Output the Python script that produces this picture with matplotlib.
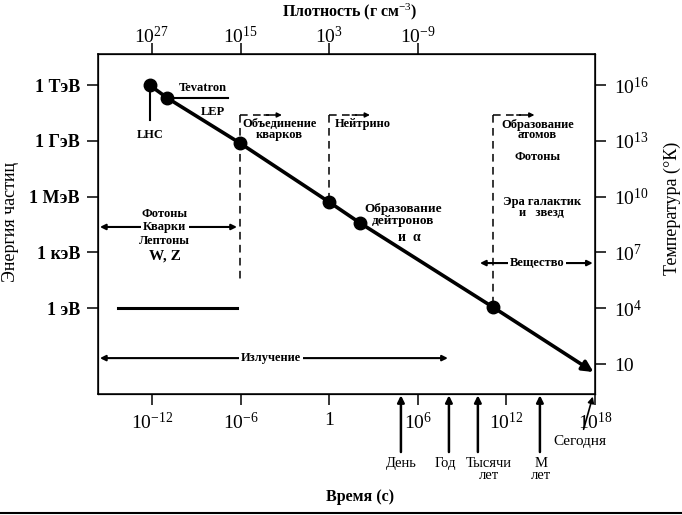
import numpy as np
import matplotlib.pyplot as plt
from matplotlib.lines import Line2D
from matplotlib.ticker import NullLocator

plt.rcParams['font.family'] = ['Liberation Serif', 'DejaVu Serif']
plt.rcParams['mathtext.fontset'] = 'custom'
plt.rcParams['mathtext.rm'] = 'Liberation Serif'
plt.rcParams['mathtext.it'] = 'Liberation Serif:italic'
plt.rcParams['mathtext.bf'] = 'Liberation Serif:bold'

# cooling line: log10 time (s) and log10 temperature (K)
line_t = [-12.16, -10.95, -6.04, 0.0, 2.1, 11.09, 17.9]
line_T = [16.0, 15.3, 12.88, 9.71, 8.58, 4.06, 0.57]
n_dots = 6

# bottom axis
time_ticks = [-12, -6, 0, 6, 12, 18]
time_labels = ['$10^{-12}$', '$10^{-6}$', '1', '$10^{6}$', '$10^{12}$', '$10^{18}$']
# top axis (density)
dens_ticks = [-12, -6, 0, 6]
dens_labels = ['$10^{27}$', '$10^{15}$', '$10^{3}$', '$10^{-9}$']
# left axis (energy) / right axis (temperature)
energy_ticks = [16, 13, 10, 7, 4]
energy_labels = ['1 ТэВ', '1 ГэВ', '1 МэВ', '1 кэВ', '1 эВ']
temp_ticks = [16, 13, 10, 7, 4, 1]
temp_labels = ['$10^{16}$', '$10^{13}$', '$10^{10}$', '$10^{7}$', '$10^{4}$', '10']

# time markers below the axis
event_t = [4.86, 8.11, 10.07, 14.27]
event_label_t = [4.86, 7.9, 10.82, 14.34]
event_labels = ['День', 'Год', 'Тысячи\nлет', 'М\nлет']

# epoch boundaries (dashed lines), log10 time
epoch_t = [-6.04, 0.0, 11.09]
epoch_bottom = [5.52, 9.71, 4.06]
epoch_arrow_end = [-3.2, 2.76, 13.9]


def P(x, y):
    return 10.0 ** x, 10.0 ** y


fig = plt.figure(figsize=(6.82, 5.15), dpi=100)
ax = fig.add_axes([98 / 682, 1 - 394 / 515, 497 / 682, 340 / 515])
ax.set_xscale('log')
ax.set_yscale('log')
xlim = P(-15.65, 18.0)
ylim = (10 ** -0.61, 10 ** 17.67)
ax.set_xlim(xlim)
ax.set_ylim(ylim)
for s in ax.spines.values():
    s.set_linewidth(1.1)

ax.set_xticks(10.0 ** np.array(time_ticks), time_labels)
ax.set_yticks(10.0 ** np.array(energy_ticks), energy_labels)
ax.xaxis.set_minor_locator(NullLocator())
ax.yaxis.set_minor_locator(NullLocator())
ax.tick_params(axis='x', direction='out', length=8, width=1.1, pad=5, labelsize=14)
ax.tick_params(axis='y', direction='out', length=8, width=1.1, pad=5, labelsize=13)
for lbl in ax.get_yticklabels():
    lbl.set_fontweight('bold')

axr = ax.twinx()
axr.set_yscale('log')
axr.set_ylim(ylim)
axr.set_yticks(10.0 ** np.array(temp_ticks), temp_labels)
axr.yaxis.set_minor_locator(NullLocator())
axr.tick_params(axis='y', direction='out', length=8, width=1.1, pad=6, labelsize=14)

axt = ax.twiny()
axt.set_xscale('log')
axt.set_xlim(xlim)
axt.set_xticks(10.0 ** np.array(dens_ticks), dens_labels)
axt.xaxis.set_minor_locator(NullLocator())
axt.tick_params(axis='x', direction='out', length=8, width=1.1, pad=-3, labelsize=14)

# main line with dots and final arrow
lt = 10.0 ** np.array(line_t)
lT = 10.0 ** np.array(line_T)
ax.plot(lt[:-1], lT[:-1], color='k', lw=2.6, zorder=5)
ax.annotate('', xy=(lt[-1], lT[-1]), xytext=(lt[-2], lT[-2]),
            arrowprops=dict(arrowstyle='-|>', lw=2.6, color='k', mutation_scale=16,
                            shrinkA=0, shrinkB=0), zorder=5)
ax.plot(lt[:n_dots], lT[:n_dots], 'o', color='k', ms=9, zorder=6)

bold = dict(fontweight='bold', ha='center', va='center', color='k')

# LHC / Tevatron
ax.plot(*zip(P(line_t[0], line_T[0]), P(line_t[0], 14.12)), color='k', lw=1.5)
ax.text(*P(-12.13, 13.31), 'LHC', fontsize=9, **bold)
ax.plot(*zip(P(line_t[1], line_T[1]), P(-6.86, line_T[1])), color='k', lw=1.5)
ax.text(*P(-8.54, 15.84), 'Tevatron', fontsize=9, **bold)
ax.text(*P(-7.87, 14.55), 'LEP', fontsize=9, **bold)

# dashed epoch lines with small arrows on top
top = 14.39
for et, eb, ea in zip(epoch_t, epoch_bottom, epoch_arrow_end):
    ax.plot(*zip(P(et, top), P(et, eb)), color='k', lw=1.1, ls=(0, (5, 3.5)))
    ax.plot(*zip(P(et, top), P(ea - 0.9, top)), color='k', lw=1.1, ls=(0, (5, 3.5)))
    ax.annotate('', xy=P(ea, top), xytext=P(ea - 1.2, top),
                arrowprops=dict(arrowstyle='-|>', lw=1.1, color='k', mutation_scale=7,
                                shrinkA=0, shrinkB=0))

ax.text(*P(-3.35, 13.6), 'Объединение\nкварков', fontsize=9, linespacing=0.9, **bold)
ax.text(*P(2.3, 13.9), 'Нейтрино', fontsize=9, **bold)
ax.text(*P(14.1, 13.6), 'Образование\nатомов', fontsize=9, linespacing=0.8, **bold)
ax.text(*P(14.1, 12.13), 'Фотоны', fontsize=9, **bold)
ax.text(*P(14.4, 9.42), 'Эра галактик\nи   звезд', fontsize=9, linespacing=0.8, **bold)
ax.text(*P(5.0, 9.04), 'Образование\nдейтронов', fontsize=9.5, linespacing=1.0, **bold)
ax.text(*P(5.45, 7.8), 'и  α', fontsize=10, **bold)

# double arrows
def span(x1, x2, y, label, lx, fs=9):
    ax.annotate('', xy=P(x2, y), xytext=P(x1, y),
                arrowprops=dict(arrowstyle='<|-|>', lw=1.5, color='k', mutation_scale=8,
                                shrinkA=0, shrinkB=0), zorder=3)
    ax.text(*P(lx, y), label, fontsize=fs, zorder=4,
            bbox=dict(facecolor='white', edgecolor='none', pad=1.5), **bold)

span(-15.52, -6.24, 8.37, 'Кварки', -11.12)
ax.text(*P(-11.12, 9.05), 'Фотоны', fontsize=9, **bold)
ax.text(*P(-11.12, 7.61), 'Лептоны', fontsize=9, **bold)
ax.text(*P(-11.12, 6.83), 'W, Z', fontsize=11, **bold)
span(10.21, 17.85, 6.43, 'Вещество', 14.07)
span(-15.52, 8.04, 1.32, 'Излучение', -3.94)

ax.plot(*zip(P(-14.3, 4.01), P(-6.24, 4.01)), color='k', lw=2.2)

# time markers below the axis
for et, lx, el in zip(event_t, event_label_t, event_labels):
    ax.annotate('', xy=P(et, -0.68), xytext=P(et, -3.73), annotation_clip=False,
                arrowprops=dict(arrowstyle='-|>', lw=1.8, color='k', mutation_scale=10,
                                shrinkA=0, shrinkB=0))
    ax.text(*P(lx, -3.98), el, fontsize=10.5, ha='center', va='top', linespacing=0.95,
            clip_on=False)

ax.annotate('Сегодня', xy=P(17.85, -0.75), xytext=P(17.0, -3.15), annotation_clip=False,
            fontsize=11, ha='center', va='center',
            arrowprops=dict(arrowstyle='-|>', lw=1.2, color='k', mutation_scale=9,
                            shrinkA=2, shrinkB=0))

fig.text(11 / 682, 1 - 222 / 515, 'Энергия частиц', rotation=90, fontsize=13,
         ha='center', va='center')
fig.text(672 / 682, 1 - 208 / 515, 'Температура (°К)', rotation=90, fontsize=13,
         ha='center', va='center')
fig.text(350 / 682, 1 - 12 / 515, 'Плотность (г см$^{-3}$)', fontsize=11.5,
         fontweight='bold', ha='center', va='center')
fig.text(360 / 682, 1 - 497 / 515, 'Время (с)', fontsize=11.5, fontweight='bold',
         ha='center', va='center')
fig.add_artist(Line2D([0, 1], [1 - 513 / 515] * 2, color='k', lw=1.5))

fig.savefig('out.png', dpi=100)
